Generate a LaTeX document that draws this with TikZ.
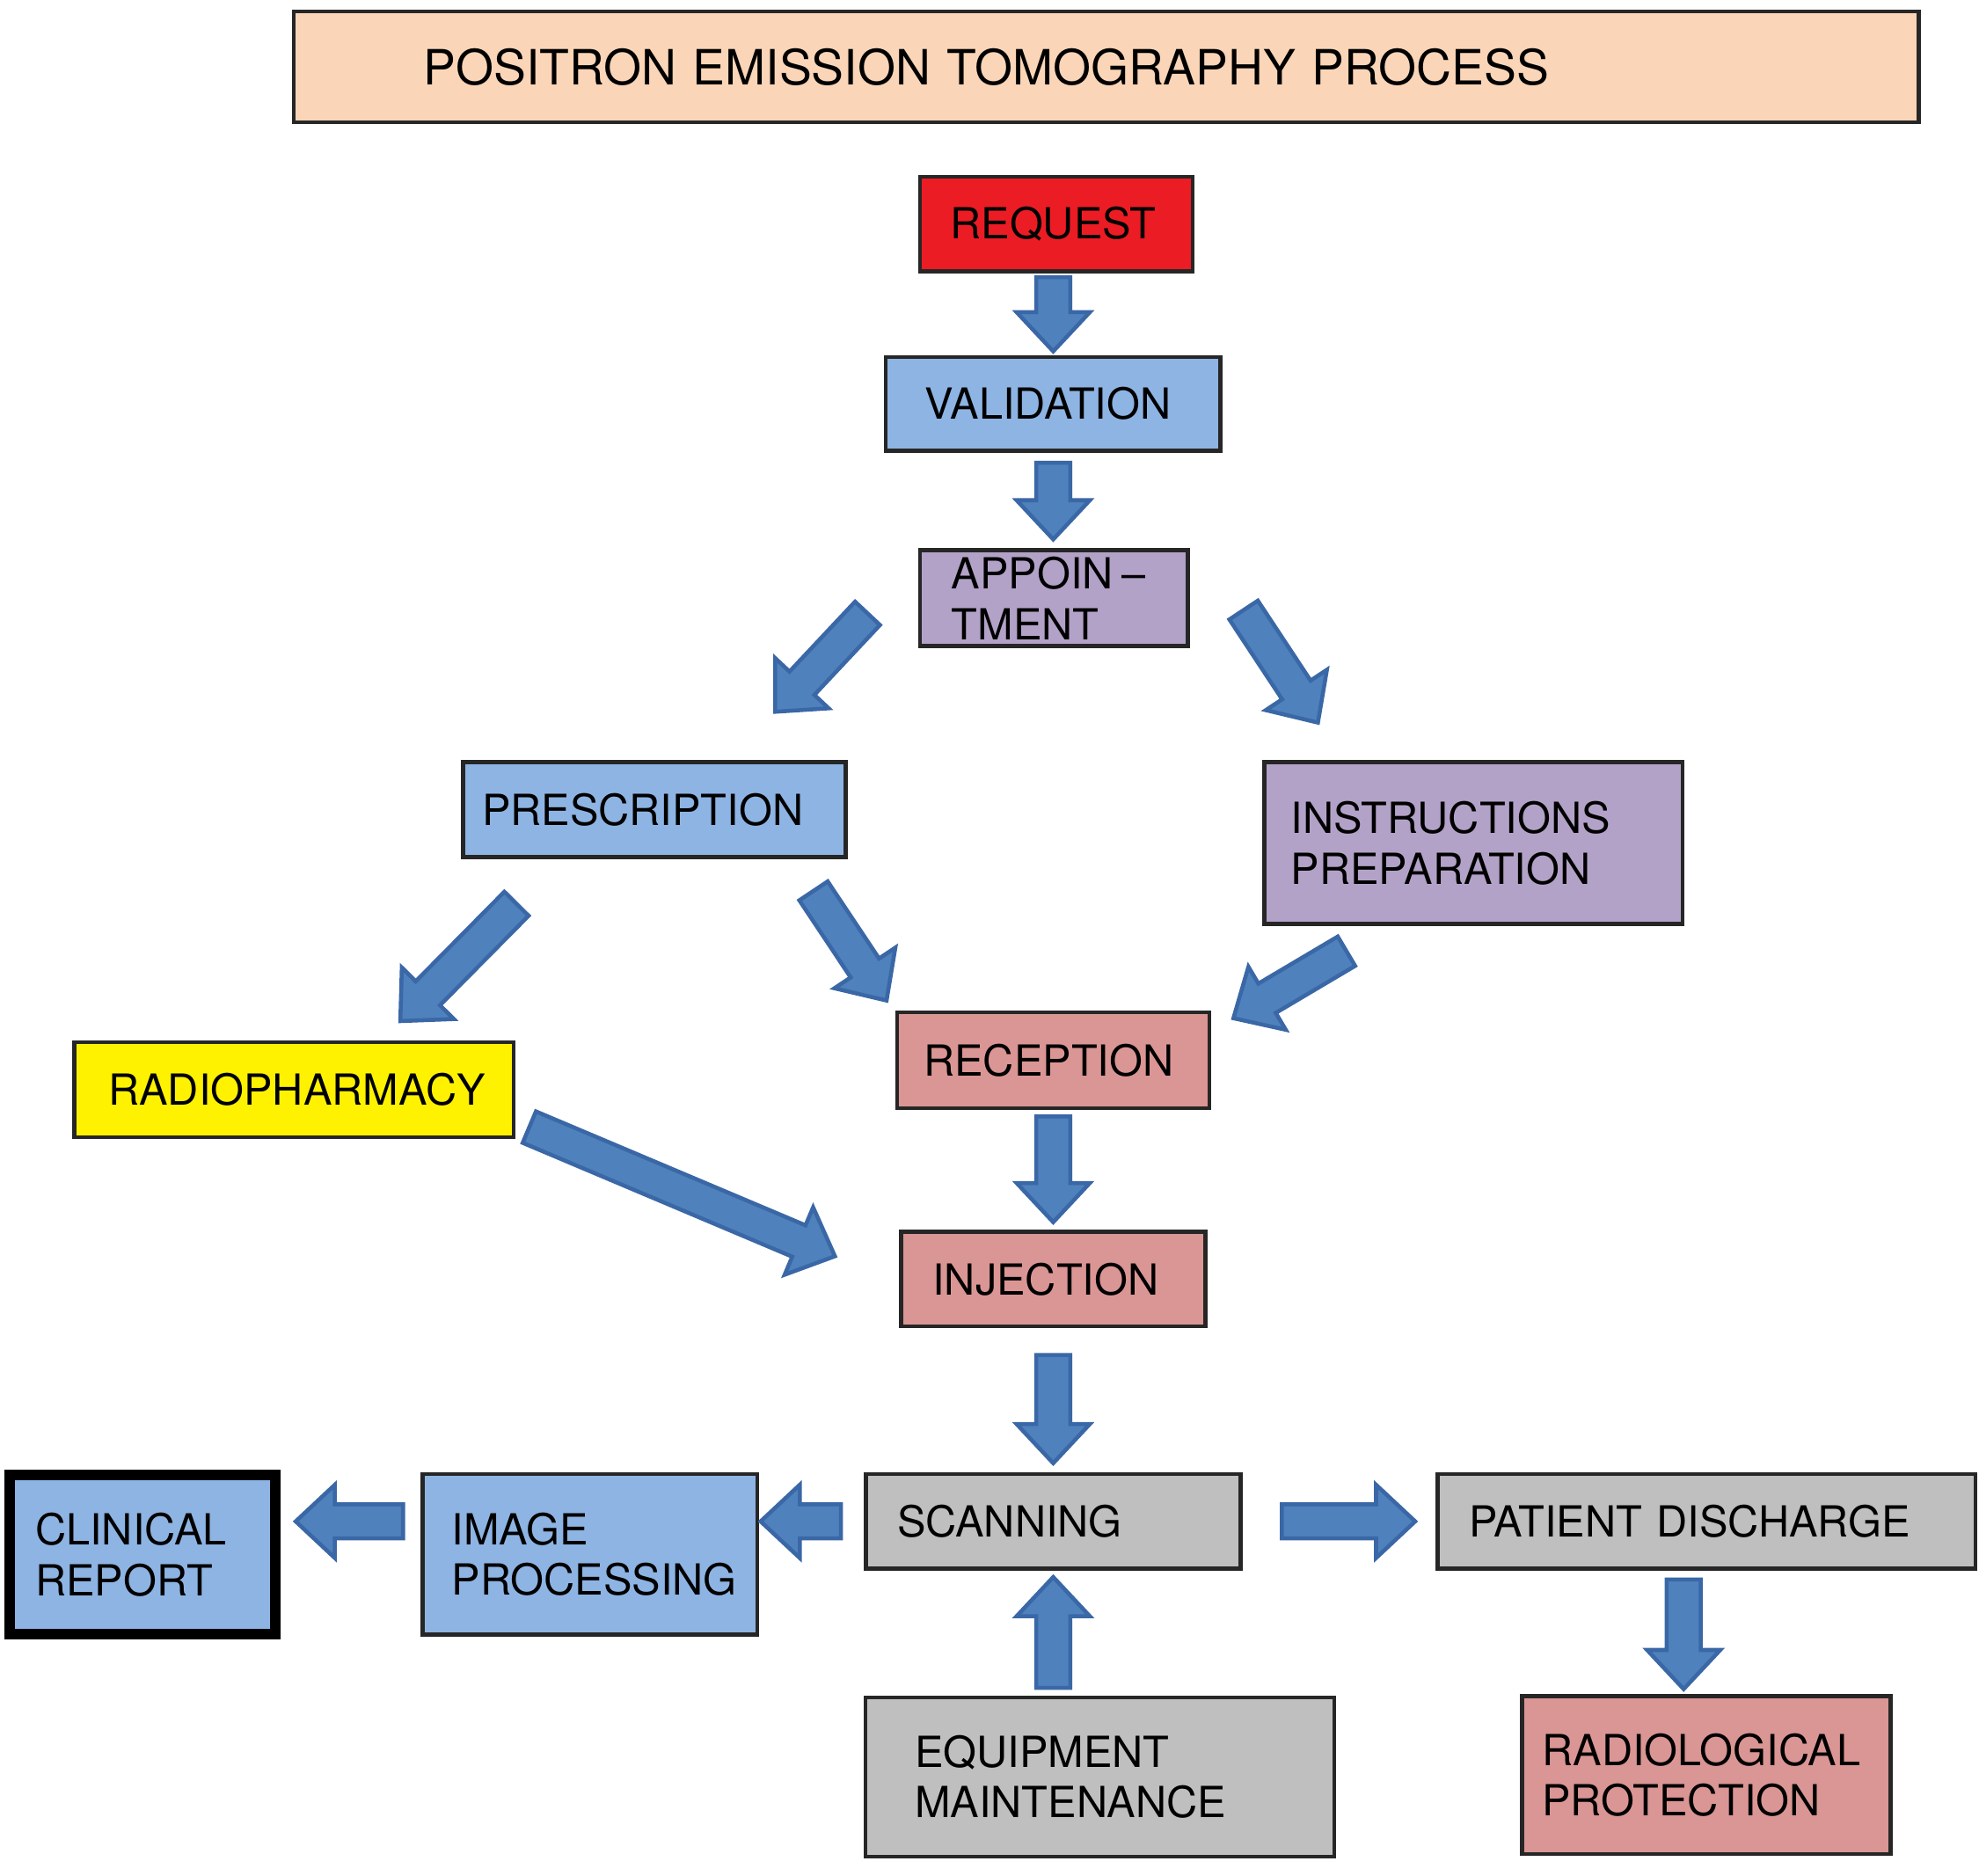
\documentclass[tikz,border=0pt]{standalone}
\usepackage{fontspec}
\setmainfont{TeX Gyre Heros}
\usetikzlibrary{calc}

\definecolor{titlepeach}{HTML}{FAD5B7}
\definecolor{reqred}{HTML}{EC1C24}
\definecolor{boxblue}{HTML}{8EB4E3}
\definecolor{boxlilac}{HTML}{B3A2C7}
\definecolor{boxyellow}{HTML}{FFF200}
\definecolor{boxpink}{HTML}{DA9694}
\definecolor{boxgray}{HTML}{BFBFBF}
\definecolor{arrowblue}{HTML}{4F81BD}
\definecolor{arrowedge}{HTML}{3A67A6}

\newcommand\arrshaft{0.135cm}
\newcommand\arrhead{0.29cm}
\newcommand\arrheadlen{0.31cm}
% block arrow from #1 to #2
\newcommand\blockarrow[2]{%
  \coordinate (ba-s) at #1;
  \coordinate (ba-e) at #2;
  \coordinate (ba-h) at ($(ba-e)!\arrheadlen!(ba-s)$);
  \draw[arrowshape] ($(ba-s)!\arrshaft!90:(ba-e)$) -- ($(ba-h)!\arrshaft!90:(ba-e)$)
    -- ($(ba-h)!\arrhead!90:(ba-e)$) -- (ba-e) -- ($(ba-h)!\arrhead!-90:(ba-e)$)
    -- ($(ba-h)!\arrshaft!-90:(ba-e)$) -- ($(ba-s)!\arrshaft!-90:(ba-e)$) -- cycle;
}

\begin{document}
\begin{tikzpicture}[x=0.01cm, y=-0.01cm,
  box/.style={draw=black!85, line width=0.9pt, align=left, inner ysep=0pt,
    font=\fontsize{9.65}{11.4}\selectfont},
  arrowshape/.style={fill=arrowblue, draw=arrowedge, line width=0.9pt, line join=miter}]
\useasboundingbox (0,0) rectangle (1568,1486);

\node[box, fill=titlepeach, minimum height=0.88cm, text width=10.81cm, inner xsep=1.03cm,
  font=\fontsize{10.95}{13}\selectfont] (title) at (876.5,53) {POSITRON EMISSION TOMOGRAPHY PROCESS};

\node[box, fill=reqred, minimum height=0.75cm, text width=1.68cm, inner xsep=0.24cm] (req) at (837,177.5) {REQUEST};
\node[box, fill=boxblue, minimum height=0.74cm, text width=2.03cm, inner xsep=0.31cm] (val) at (834.5,320) {VALIDATION};
\node[box, fill=boxlilac, minimum height=0.76cm, text width=1.62cm, inner xsep=0.25cm] (app) at (835,474) {APPOIN\hspace{0.2em}–\\TMENT};
\node[box, fill=boxblue, minimum height=0.75cm, text width=2.73cm, inner xsep=0.15cm] (presc) at (518.5,641.5) {PRESCRIPTION};
\node[box, fill=boxlilac, minimum height=1.28cm, text width=2.89cm, inner xsep=0.21cm] (instr) at (1167.5,668) {INSTRUCTIONS\\PREPARATION};
\node[box, fill=boxyellow, minimum height=0.75cm, text width=2.94cm, inner xsep=0.27cm] (radio) at (233,863.5) {RADIOPHARMACY};
\node[box, fill=boxpink, minimum height=0.76cm, text width=2.05cm, inner xsep=0.21cm] (recep) at (834.5,840) {RECEPTION};
\node[box, fill=boxpink, minimum height=0.75cm, text width=1.91cm, inner xsep=0.25cm] (inj) at (834.5,1013.5) {INJECTION};
\node[box, fill=boxgray, minimum height=0.75cm, text width=2.47cm, inner xsep=0.25cm] (scan) at (834.5,1205.5) {SCANNING};
\node[box, fill=boxgray, minimum height=0.75cm, text width=3.76cm, inner xsep=0.25cm] (pat) at (1352,1205.5) {PATIENT DISCHARGE};
\node[box, fill=boxblue, line width=2.4pt, draw=black, minimum height=1.26cm, text width=1.70cm, inner xsep=0.20cm] (clin) at (113,1232) {CLINICAL\\REPORT};
\node[box, fill=boxblue, minimum height=1.27cm, text width=2.19cm, inner xsep=0.23cm] (img) at (467.5,1231.5) {IMAGE\\PROCESSING};
\node[box, fill=boxgray, minimum height=1.26cm, text width=2.93cm, inner xsep=0.39cm] (equip) at (871.5,1408) {EQUIPMENT\\MAINTENANCE};
\node[box, fill=boxpink, minimum height=1.25cm, text width=2.60cm, inner xsep=0.16cm] (rad) at (1352,1406.5) {RADIOLOGICAL\\PROTECTION};

% main line
\blockarrow{($(req.south -| val.north)+(0,3)$)}{($(val.north)+(0,-3)$)}
\blockarrow{($(val.south)+(0,8)$)}{($(app.north -| val.south)+(0,-7)$)}
\blockarrow{($(app.west)+(-40,12)$)}{($(presc.north east)+(-57.5,-38.4)$)}
\blockarrow{($(app.east)+(42.7,9.4)$)}{($(instr.north west)+(43.9,-29.8)$)}
\blockarrow{($(presc.south west)+(43.9,35.5)$)}{($(radio.north east)+(-91.5,-15.3)$)}
\blockarrow{($(presc.south east)+(-27.1,25.3)$)}{($(recep.north west)+(-6.9,-7.6)$)}
\blockarrow{($(instr.south west)+(66.5,20.1)$)}{($(recep.north east)+(17.6,6.4)$)}
\blockarrow{($(radio.east)+(10.7,29.6)$)}{($(inj.west)+(-50.8,-18.1)$)}
\blockarrow{($(recep.south)+(0,5)$)}{($(inj.north)+(0,-6)$)}
\blockarrow{($(inj.south)+(0,21)$)}{($(scan.north)+(0,-7)$)}
% around scanning
\blockarrow{($(scan.west)+(-18,0)$)}{($(img.east |- scan.west)+(1,0)$)}
\blockarrow{($(img.west |- scan.west)+(-14,0)$)}{($(clin.east |- scan.west)+(12,0)$)}
\blockarrow{($(scan.east)+(31,0)$)}{($(pat.west)+(-16,0)$)}
\blockarrow{($(equip.north -| scan.south)+(0,-6)$)}{($(scan.south)+(0,5)$)}
\blockarrow{($(pat.south)+(-18,7)$)}{($(rad.north)+(-18,-4)$)}

\end{tikzpicture}
\end{document}
